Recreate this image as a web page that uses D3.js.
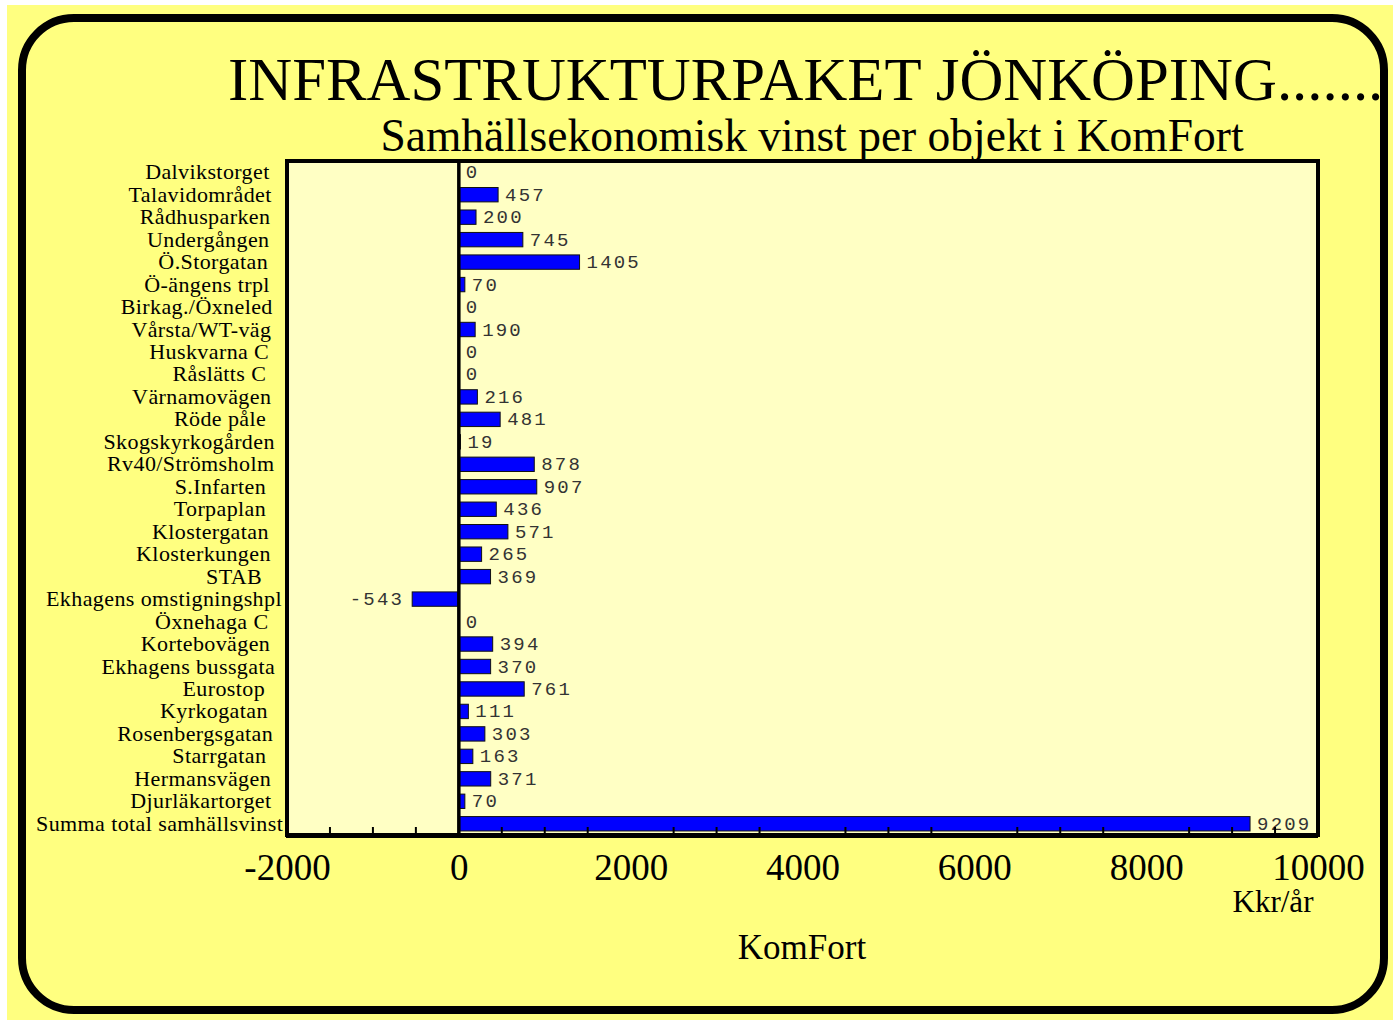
<!DOCTYPE html>
<html><head><meta charset="utf-8">
<script src="https://cdn.jsdelivr.net/npm/d3@7"></script>
<style>html,body{margin:0;padding:0;background:#fff;overflow:hidden}</style>
</head><body>
<script>
const categories = ["Dalvikstorget","Talavidområdet","Rådhusparken","Undergången","Ö.Storgatan","Ö-ängens trpl","Birkag./Öxneled","Vårsta/WT-väg","Huskvarna C","Råslätts C","Värnamovägen","Röde påle","Skogskyrkogården","Rv40/Strömsholm","S.Infarten","Torpaplan","Klostergatan","Klosterkungen","STAB","Ekhagens omstigningshpl","Öxnehaga C","Kortebovägen","Ekhagens bussgata","Eurostop","Kyrkogatan","Rosenbergsgatan","Starrgatan","Hermansvägen","Djurläkartorget","Summa total samhällsvinst"];
const values = [0,457,200,745,1405,70,0,190,0,0,216,481,19,878,907,436,571,265,369,-543,0,394,370,761,111,303,163,371,70,9209];
const tickValues = [-2000,0,2000,4000,6000,8000,10000];
const minorTicks = [-1500,-1000,-500,500,1000,1500,2500,3000,3500,4500,5000,5500,6500,7000,7500,8500,9000,9500];
const title = "INFRASTRUKTURPAKET JÖNKÖPING.......";
const subtitle = "Samhällsekonomisk vinst per objekt i KomFort";
const unitLabel = "Kkr/år";
const axisTitle = "KomFort";

const W = 1393, H = 1022;
const svg = d3.select("body").append("svg").attr("width", W).attr("height", H);

svg.append("rect").attr("x",7).attr("y",5).attr("width",W-7).attr("height",1015).attr("fill","#FFFF80");
svg.append("rect").attr("x",22).attr("y",18).attr("width",1362).attr("height",992)
  .attr("rx",52).attr("ry",52).attr("fill","none").attr("stroke","#000").attr("stroke-width",8);

svg.append("text").attr("x",228).attr("y",100).attr("font-family","Liberation Serif")
  .attr("font-size",60.8).attr("fill","#000").text(title);
svg.append("text").attr("x",812).attr("y",151).attr("text-anchor","middle").attr("font-family","Liberation Serif")
  .attr("font-size",45.5).attr("fill","#000").text(subtitle);

const plot = {l:287, r:1318, t:161, b:835};
const x = d3.scaleLinear().domain([-2000,10000]).range([plot.l, plot.r]);
const y = d3.scaleBand().domain(categories).range([plot.t, plot.b]).paddingInner(0.36).paddingOuter(0.18);

svg.append("rect").attr("x",plot.l).attr("y",plot.t).attr("width",plot.r-plot.l).attr("height",plot.b-plot.t)
  .attr("fill","#FFFFC4");

const g = svg.append("g");
g.selectAll("rect.bar").data(values).join("rect").attr("class","bar")
  .attr("x", d => x(Math.min(0,d)))
  .attr("width", d => Math.abs(x(d)-x(0)))
  .attr("y", (d,i) => y(categories[i]))
  .attr("height", y.bandwidth())
  .attr("fill","#0000FF").attr("stroke","#111").attr("stroke-width",1);

g.selectAll("text.val").data(values).join("text").attr("class","val")
  .attr("x", d => d < 0 ? x(d)-8 : x(d)+7)
  .attr("y", (d,i) => y(categories[i]) + y.bandwidth()/2 + 6)
  .attr("text-anchor", d => d < 0 ? "end" : "start")
  .attr("font-family","Liberation Mono").attr("font-size",19).attr("letter-spacing",2.2)
  .attr("fill","#333").text(d => String(d));

const cats = svg.selectAll("text.cat").data(categories).join("text").attr("class","cat")
  .attr("y", d => y(d) + y.bandwidth()/2 + 7)
  .attr("text-anchor","start").attr("font-family","Liberation Serif").attr("font-size",22)
  .attr("letter-spacing",0.4).attr("fill","#000").text(d => d);
cats.attr("x", function(){ const w = this.getComputedTextLength(); return 256 - 0.89*w; });

// zero line
svg.append("line").attr("x1",x(0)).attr("x2",x(0)).attr("y1",plot.t).attr("y2",plot.b)
  .attr("stroke","#000").attr("stroke-width",3.5);

// minor ticks
svg.selectAll("line.mt").data(minorTicks).join("line").attr("class","mt")
  .attr("x1",d=>x(d)).attr("x2",d=>x(d)).attr("y1",plot.b-8).attr("y2",plot.b)
  .attr("stroke","#000").attr("stroke-width",2);

// frame
svg.append("rect").attr("x",plot.l).attr("y",plot.t).attr("width",plot.r-plot.l).attr("height",plot.b-plot.t)
  .attr("fill","none").attr("stroke","#000").attr("stroke-width",4);
svg.append("line").attr("x1",plot.l-1).attr("x2",plot.r).attr("y1",plot.b+2).attr("y2",plot.b+2).attr("stroke","#000").attr("stroke-width",2);

// x axis labels
const ax = svg.append("g").attr("transform",`translate(0,${plot.b})`)
  .call(d3.axisBottom(x).tickValues(tickValues).tickSize(0).tickPadding(45).tickFormat(d => String(d)));
ax.select(".domain").remove();
ax.selectAll("text").attr("font-family","Liberation Serif").attr("font-size",37).attr("fill","#000").attr("dy","0");

svg.append("text").attr("x",1273).attr("y",912).attr("text-anchor","middle").attr("font-family","Liberation Serif")
  .attr("font-size",31).attr("fill","#000").text(unitLabel);
svg.append("text").attr("x",802).attr("y",959).attr("text-anchor","middle").attr("font-family","Liberation Serif")
  .attr("font-size",35).attr("fill","#000").text(axisTitle);
</script>
</body></html>
